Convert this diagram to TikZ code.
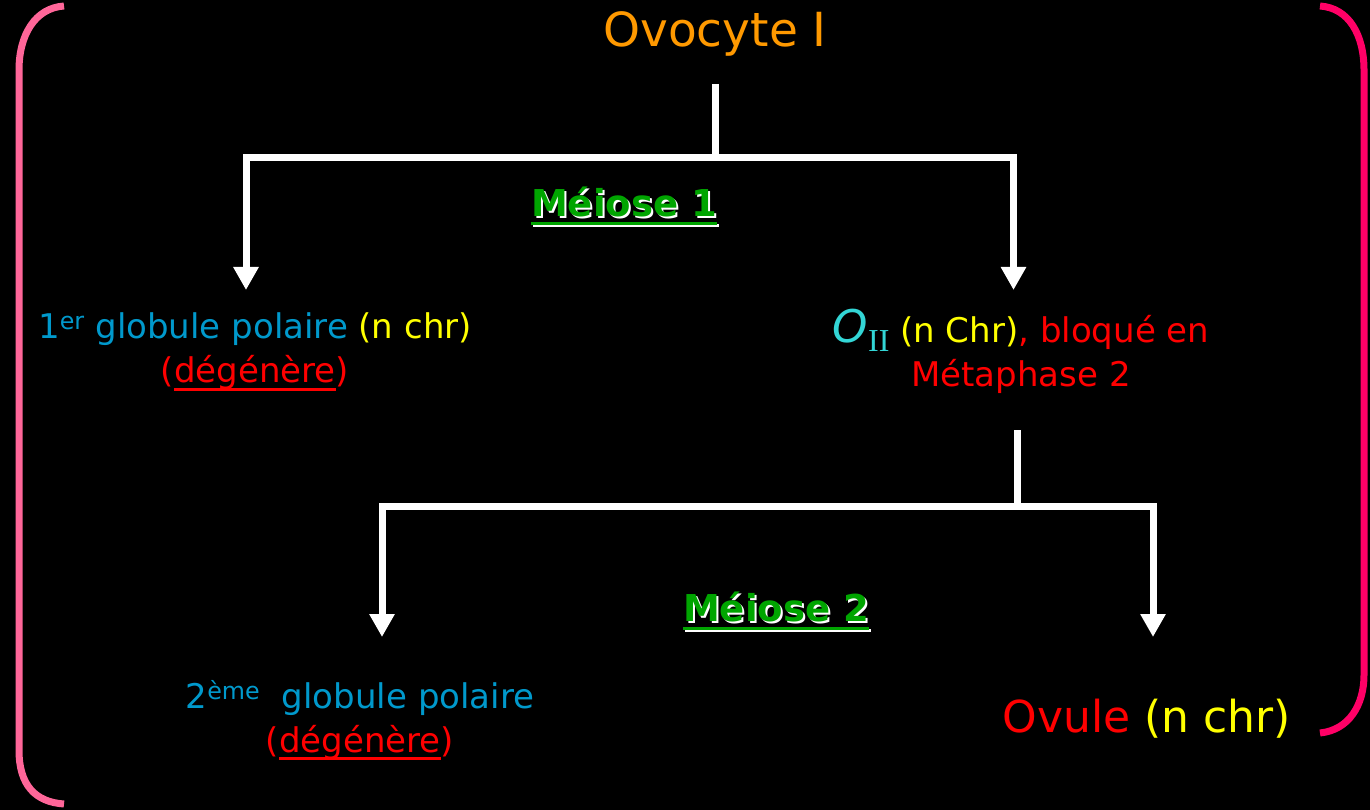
\documentclass[tikz,border=0pt]{standalone}
\usepackage{fontspec}
\setmainfont{DejaVu Sans}
\newfontfamily\serifII{Liberation Serif}
\usetikzlibrary{arrows.meta}
\definecolor{cOrange}{RGB}{255,153,0}
\definecolor{cGreen}{RGB}{0,165,0}
\definecolor{cBlue}{RGB}{0,153,204}
\definecolor{cYellow}{RGB}{255,255,0}
\definecolor{cRed}{RGB}{255,0,0}
\definecolor{cCyan}{RGB}{51,214,214}
\definecolor{cPinkL}{RGB}{255,102,153}
\definecolor{cPinkR}{RGB}{255,0,102}
\newcommand\myul[3]{\sbox0{#3}\rlap{\rule[-#1]{\wd0}{#2}}\usebox0}
\newcommand\fsz[1]{\fontsize{#1}{#1}\selectfont}
% text with a white shadow offset down-right, underlined
\newcommand\shadowul[1]{\rlap{\hspace{2pt}\raisebox{-2pt}{\textcolor{white}{\myul{9pt}{3pt}{#1}}}}\textcolor{cGreen}{\myul{9pt}{3pt}{#1}}}
\tikzset{
  txt/.style={inner sep=0pt, align=center},
  conn/.style={draw=white, line width=7pt, line join=miter, line cap=butt,
    {Triangle[width=24pt,length=23pt]}-{Triangle[width=24pt,length=23pt]}},
  stem/.style={draw=white, line width=7pt, line cap=butt},
  bracket/.style={line width=7pt, line cap=butt}
}
\begin{document}
\begin{tikzpicture}[x=1pt,y=-1pt]
\useasboundingbox (0,0) rectangle (1370,810);
\fill[black] (0,0) rectangle (1370,810);
% brackets
\draw[bracket, cPinkL] (64,6) .. controls (35,8) and (19,35) .. (19,70) -- (19,750) .. controls (19,785) and (35,802) .. (64,804);
\draw[bracket, cPinkR] (1320,6) .. controls (1349,8) and (1364,35) .. (1364,70) -- (1364,675) .. controls (1364,705) and (1349,730) .. (1320,733);
% texts
\node[txt, text=cOrange, font=\fsz{47}] (ovo) at (715,34) {Ovocyte I};
\node[txt, font=\bfseries\fsz{37}] (m1) at (624,207) {\shadowul{Méiose 1}};
\node[txt, font=\fontsize{34}{44}\selectfont] (gp1) at (255,352) {%
  \textcolor{cBlue}{1\textsuperscript{er} globule polaire} \textcolor{cYellow}{(n chr)}\\
  \textcolor{cRed}{(\myul{8pt}{3pt}{dégénère})}};
\node[txt, font=\fontsize{34}{44}\selectfont] (o2) at (1021,351) {%
  \textcolor{cCyan}{{\fsz{45}\itshape O}\raisebox{-9pt}{\serifII\fsz{32}II}} \textcolor{cYellow}{(n Chr)}\textcolor{cRed}{, bloqué en}\\
  \textcolor{cRed}{Métaphase 2}};
\node[txt, font=\bfseries\fsz{37}] (m2) at (776,612) {\shadowul{Méiose 2}};
\node[txt, font=\fontsize{34}{44}\selectfont] (gp2) at (360,720) {%
  \textcolor{cBlue}{2\textsuperscript{ème}\ \ globule polaire}\\
  \textcolor{cRed}{(\myul{8pt}{3pt}{dégénère})}};
\node[txt, font=\fsz{44}] (ovule) at (1147,719) {\textcolor{cRed}{Ovule} \textcolor{cYellow}{(n chr)}};
% connectors
\coordinate (s1a) at (715,84);
\coordinate (s1b) at (715,158);
\coordinate (c1l) at (246,158);
\coordinate (c1r) at (1013.5,158);
\coordinate (t1l) at (246,290);
\coordinate (t1r) at (1013.5,290);
\draw[stem] (s1a) -- (s1b);
\draw[conn] (t1l) -- (c1l) -- (c1r) -- (t1r);
\coordinate (s2a) at (1017,430);
\coordinate (s2b) at (1017,506);
\coordinate (c2l) at (382,506);
\coordinate (c2r) at (1153,506);
\coordinate (t2l) at (382,637);
\coordinate (t2r) at (1153,637);
\draw[stem] (s2a) -- (s2b);
\draw[conn] (t2l) -- (c2l) -- (c2r) -- (t2r);
\end{tikzpicture}
\end{document}
